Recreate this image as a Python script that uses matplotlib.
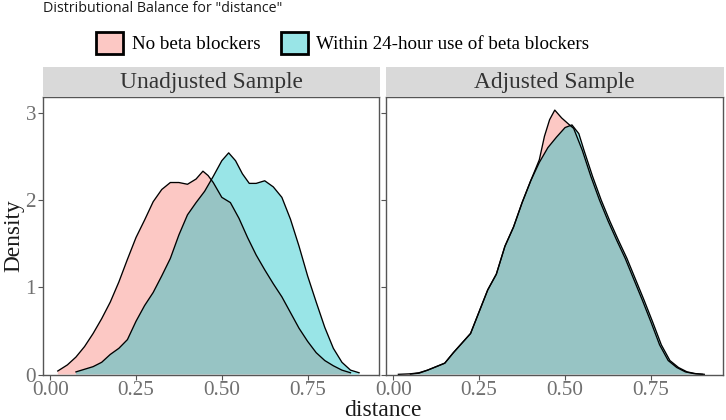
import matplotlib
matplotlib.use('Agg')
import matplotlib.pyplot as plt
import matplotlib.patches as mpatches

# Values (density curves per panel)
panels = ['Unadjusted Sample', 'Adjusted Sample']
groups = ['No beta blockers', 'Within 24-hour use of beta blockers']
colors = ['#F8766D', '#00BFC4']

unadj_no_x = [0.022, 0.05, 0.075, 0.10, 0.125, 0.15, 0.175, 0.20, 0.225, 0.25,
              0.275, 0.30, 0.325, 0.35, 0.375, 0.40, 0.425, 0.445, 0.46, 0.475,
              0.50, 0.525, 0.55, 0.575, 0.60, 0.625, 0.65, 0.675, 0.70, 0.725,
              0.75, 0.775, 0.80, 0.825, 0.85, 0.875]
unadj_no_d = [0.04, 0.11, 0.20, 0.32, 0.47, 0.64, 0.83, 1.06, 1.32, 1.57,
              1.77, 1.98, 2.12, 2.20, 2.20, 2.18, 2.24, 2.33, 2.28, 2.20,
              2.03, 1.97, 1.79, 1.57, 1.37, 1.20, 1.04, 0.89, 0.71, 0.53,
              0.38, 0.25, 0.16, 0.10, 0.05, 0.02]

unadj_bb_x = [0.075, 0.10, 0.125, 0.15, 0.175, 0.20, 0.225, 0.25, 0.275, 0.30,
              0.325, 0.35, 0.375, 0.40, 0.425, 0.45, 0.475, 0.50, 0.52, 0.54,
              0.56, 0.58, 0.60, 0.625, 0.65, 0.675, 0.70, 0.725, 0.75, 0.775,
              0.80, 0.825, 0.85, 0.875, 0.90]
unadj_bb_d = [0.03, 0.06, 0.09, 0.14, 0.23, 0.30, 0.40, 0.61, 0.79, 0.94,
              1.13, 1.33, 1.60, 1.83, 1.97, 2.10, 2.27, 2.45, 2.54, 2.45,
              2.30, 2.19, 2.19, 2.22, 2.15, 2.03, 1.78, 1.47, 1.13, 0.83,
              0.54, 0.30, 0.14, 0.05, 0.02]

adj_no_x = [0.015, 0.05, 0.075, 0.10, 0.125, 0.15, 0.175, 0.20, 0.225, 0.25,
            0.275, 0.30, 0.325, 0.35, 0.375, 0.40, 0.425, 0.44, 0.455, 0.47,
            0.49, 0.51, 0.525, 0.55, 0.575, 0.60, 0.625, 0.65, 0.675, 0.70,
            0.725, 0.75, 0.775, 0.80, 0.825, 0.85, 0.875, 0.90]
adj_no_d = [0.002, 0.008, 0.02, 0.05, 0.09, 0.13, 0.25, 0.36, 0.47, 0.72,
            0.97, 1.15, 1.47, 1.69, 1.97, 2.22, 2.46, 2.73, 2.92, 3.03,
            2.94, 2.87, 2.82, 2.57, 2.27, 2.00, 1.76, 1.54, 1.33, 1.09,
            0.85, 0.60, 0.34, 0.16, 0.08, 0.03, 0.01, 0.002]

adj_bb_x = [0.05, 0.075, 0.10, 0.125, 0.15, 0.175, 0.20, 0.225, 0.25, 0.275,
            0.30, 0.325, 0.35, 0.375, 0.40, 0.425, 0.45, 0.475, 0.50, 0.52,
            0.54, 0.555, 0.58, 0.605, 0.63, 0.655, 0.68, 0.705, 0.73, 0.755,
            0.78, 0.805, 0.83, 0.855, 0.88, 0.905]
adj_bb_d = [0.005, 0.015, 0.05, 0.09, 0.13, 0.25, 0.36, 0.47, 0.72, 0.97,
            1.15, 1.47, 1.69, 1.97, 2.22, 2.43, 2.60, 2.72, 2.83, 2.86,
            2.76, 2.57, 2.27, 2.00, 1.76, 1.54, 1.33, 1.09, 0.85, 0.60,
            0.34, 0.16, 0.08, 0.03, 0.01, 0.002]

x_ticks = [0.0, 0.25, 0.5, 0.75]
x_labels = ['0.00', '0.25', '0.50', '0.75']
y_ticks = [0, 1, 2, 3]

curves = [
    [(unadj_no_x, unadj_no_d), (unadj_bb_x, unadj_bb_d)],
    [(adj_no_x, adj_no_d), (adj_bb_x, adj_bb_d)],
]

serif = 'Liberation Serif'
W, H = 726, 420
fig = plt.figure(figsize=(W / 100, H / 100), dpi=100)

panel_px = [(43, 379), (386, 722.5)]
top_px, bot_px = 97, 374.5
strip_top = 67

for i, (x0, x1) in enumerate(panel_px):
    ax = fig.add_axes([x0 / W, (H - bot_px) / H, (x1 - x0) / W, (bot_px - top_px) / H])
    for (xs, ds), col in zip(curves[i], colors):
        ax.fill_between(xs, 0, ds, facecolor=col, alpha=0.4, linewidth=0)
        ax.plot(xs, ds, color='black', lw=0.95, solid_joinstyle='round')
    ax.set_xlim(-0.021, 0.958)
    ax.set_ylim(0, 3.18)
    ax.set_xticks(x_ticks)
    ax.set_xticklabels(x_labels, family=serif, fontsize=15.2, color='#707070')
    ax.set_yticks(y_ticks)
    if i == 0:
        ax.set_yticklabels([str(t) for t in y_ticks], family=serif, fontsize=15.2,
                           color='#707070')
        ax.set_ylabel('Density', family=serif, fontsize=16.8, color='#1a1a1a',
                      labelpad=1)
    else:
        ax.set_yticklabels([])
        ax.tick_params(axis='y', length=0)
    ax.tick_params(length=3.5, width=0.8, color='#555555', pad=1.5)
    for s in ax.spines.values():
        s.set_color('#555555')
        s.set_linewidth(1.0)

    # facet strip
    sax = fig.add_axes([x0 / W, (H - top_px) / H, (x1 - x0 + 1) / W, (top_px - strip_top) / H])
    sax.set_facecolor('#D9D9D9')
    sax.set_xticks([])
    sax.set_yticks([])
    for s in sax.spines.values():
        s.set_visible(False)
    sax.text(0.5, 0.47, panels[i], ha='center', va='center', family=serif,
             fontsize=16.8, color='#333333', transform=sax.transAxes)

fig.text(382.5 / W, 1 - 410 / H, 'distance', ha='center', va='center',
         family=serif, fontsize=17, color='#1a1a1a')

fig.text(43 / W, 1 - 9 / H, 'Distributional Balance for "distance"',
         ha='left', va='center', family='Open Sans', fontsize=10.3, color='#1a1a1a')

handles = [mpatches.Patch(facecolor=matplotlib.colors.to_rgba(c, 0.4),
                          edgecolor='black', linewidth=2, label=g)
           for g, c in zip(groups, colors)]
fig.legend(handles=handles, loc='center', bbox_to_anchor=(343 / W, 1 - 43 / H),
           ncol=2, frameon=False, prop={'family': serif, 'size': 13.7},
           handlelength=1.4, handleheight=1.45, handletextpad=0.45,
           columnspacing=1.1, borderpad=0, borderaxespad=0)

fig.savefig('out.png', dpi=100)
